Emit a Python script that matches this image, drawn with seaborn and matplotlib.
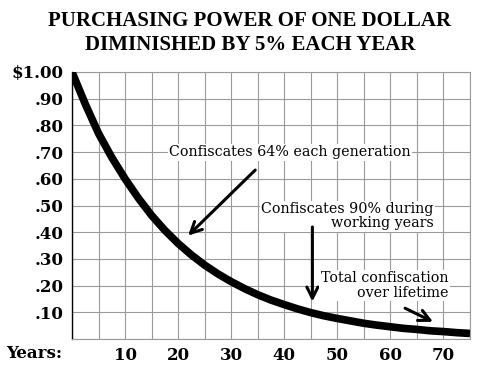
import matplotlib
matplotlib.use("Agg")
import matplotlib.pyplot as plt
import seaborn as sns
import pandas as pd

# valores (poder de compra de 1 dólar)
years = [0, 2.5, 5, 7.5, 10, 12.5, 15, 17.5, 20, 22.5, 25, 27.5, 30, 32.5, 35, 37.5,
         40, 42.5, 45, 47.5, 50, 52.5, 55, 57.5, 60, 62.5, 65, 67.5, 70, 72.5, 75]
value = [1.00, 0.88, 0.77, 0.68, 0.60, 0.528, 0.463, 0.407, 0.358, 0.315, 0.277, 0.244,
         0.215, 0.189, 0.166, 0.146, 0.129, 0.113, 0.099, 0.087, 0.077, 0.068, 0.059,
         0.052, 0.046, 0.040, 0.036, 0.031, 0.028, 0.024, 0.021]
x_ticks = [10, 20, 30, 40, 50, 60, 70]
y_ticks = [0.1, 0.2, 0.3, 0.4, 0.5, 0.6, 0.7, 0.8, 0.9, 1.0]
y_labels = [".10", ".20", ".30", ".40", ".50", ".60", ".70", ".80", ".90", "$1.00"]

df = pd.DataFrame({"ano": years, "valor": value})

sns.set_style("white")
plt.rcParams["font.family"] = ["DejaVu Serif"]
plt.rcParams["text.color"] = "black"
plt.rcParams["xtick.color"] = "black"
plt.rcParams["ytick.color"] = "black"

fig = plt.figure(figsize=(5, 3.73), dpi=100)
ax = fig.add_axes([0.144, 0.091, 0.796, 0.716])

# grade
for gx in range(0, 80, 5):
    ax.axvline(gx, color="#9a9a9a", lw=0.8, zorder=0)
for gy in [0.1 * i for i in range(11)]:
    ax.axhline(gy, color="#9a9a9a", lw=0.8, zorder=0)

sns.lineplot(data=df, x="ano", y="valor", ax=ax, color="black", lw=5.5,
             solid_capstyle="butt", solid_joinstyle="round", zorder=3)

ax.set_xlim(0, 75)
ax.set_ylim(0, 1.0)
ax.set_xticks(x_ticks)
ax.set_xticklabels([str(t) for t in x_ticks], fontsize=12, fontweight="bold")
ax.set_yticks(y_ticks)
ax.set_yticklabels(y_labels, fontsize=12, fontweight="bold")
ax.tick_params(length=0, pad=6)
ax.set_xlabel("")
ax.set_ylabel("")
for s in ["top", "right", "bottom"]:
    ax.spines[s].set_color("#9a9a9a")
    ax.spines[s].set_linewidth(0.8)
ax.spines["left"].set_color("black")
ax.spines["left"].set_linewidth(1.0)

fig.text(6 / 500, 1 - 353 / 373, "Years:", fontsize=12, fontweight="bold",
         ha="left", va="center")

fig.text(0.5, 1 - 33 / 373, "PURCHASING POWER OF ONE DOLLAR\nDIMINISHED BY 5% EACH YEAR",
         ha="center", va="center", fontsize=15, fontweight="bold",
         family=["Liberation Serif"], linespacing=1.25)

box = dict(facecolor="white", edgecolor="none", pad=1)
arrow = dict(arrowstyle="->", lw=2.2, color="black", mutation_scale=20)

ax.text(41.1, 0.70, "Confiscates 64% each generation", ha="center", va="center",
        fontsize=10.3, bbox=box, zorder=4)
ax.annotate("", xy=(21.5, 0.38), xytext=(34.9, 0.64), arrowprops=arrow, zorder=4)

ax.text(68.1, 0.46, "Confiscates 90% during\nworking years", ha="right", va="center",
        fontsize=10.3, bbox=box, linespacing=1.05, zorder=4)
ax.annotate("", xy=(45.3, 0.13), xytext=(45.3, 0.43), arrowprops=arrow, zorder=4)

ax.text(70.9, 0.20, "Total confiscation\nover lifetime", ha="right", va="center",
        fontsize=10.3, bbox=box, linespacing=1.05, zorder=4)
ax.annotate("", xy=(68.5, 0.06), xytext=(62.3, 0.12), arrowprops=arrow, zorder=4)

fig.savefig("out.png", dpi=100)
